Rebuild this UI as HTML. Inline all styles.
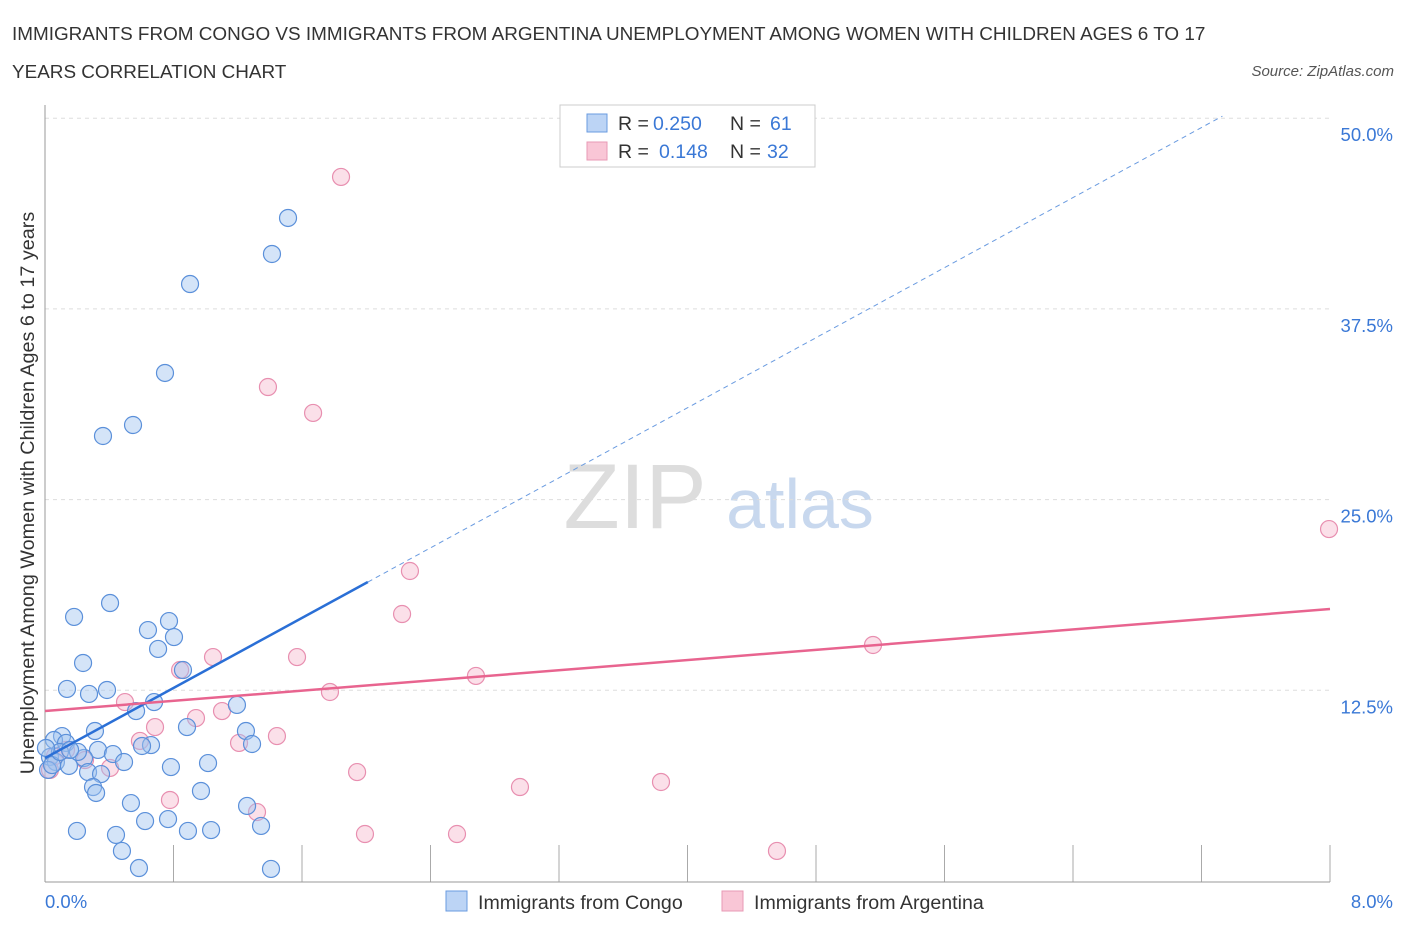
<!DOCTYPE html>
<html><head><meta charset="utf-8"><style>
body{margin:0;background:#fff;font-family:"Liberation Sans",sans-serif;}
svg text{font-family:"Liberation Sans",sans-serif;}
</style></head><body>
<svg width="1406" height="930">
<text x="12" y="40" font-size="18.9" fill="#333">IMMIGRANTS FROM CONGO VS IMMIGRANTS FROM ARGENTINA UNEMPLOYMENT AMONG WOMEN WITH CHILDREN AGES 6 TO 17</text>
<text x="12" y="78" font-size="18.9" fill="#333">YEARS CORRELATION CHART</text>
<text x="1394" y="76" font-size="15" fill="#555" font-style="italic" text-anchor="end">Source: ZipAtlas.com</text>
<text x="635" y="528" font-size="92" fill="#ddd" font-family="Liberation Serif" text-anchor="middle">ZIP</text>
<text x="800" y="528" font-size="70" fill="#c8d8ee" text-anchor="middle">atlas</text>
<g id="grid"></g>
<g id="ticks"></g>
<line x1="45" y1="105" x2="45" y2="882" stroke="#999"/>
<line x1="45" y1="882" x2="1330" y2="882" stroke="#999"/>
<text transform="translate(34,493) rotate(-90)" font-size="19.8" fill="#333" text-anchor="middle">Unemployment Among Women with Children Ages 6 to 17 years</text>
<text x="45" y="908" font-size="18.5" fill="#3a78d6">0.0%</text>
<text x="1393" y="908" font-size="18.5" fill="#3a78d6" text-anchor="end">8.0%</text>
<g id="pts"></g>
<g id="lines"></g>
<g>
<rect x="560" y="105" width="255" height="62" fill="#fff" stroke="#ccc"/>
<rect x="587" y="114" width="20" height="18" fill="#bcd4f5" stroke="#6a9be0"/>
<rect x="587" y="142" width="20" height="18" fill="#f9c6d6" stroke="#e89ab5"/>
<text x="618" y="130" font-size="19.5" fill="#333">R =</text>
<text x="653" y="130" font-size="19.5" fill="#3a78d6">0.250</text>
<text x="730" y="130" font-size="19.5" fill="#333">N =</text>
<text x="770" y="130" font-size="19.5" fill="#3a78d6">61</text>
<text x="618" y="158" font-size="19.5" fill="#333">R =</text>
<text x="659" y="158" font-size="19.5" fill="#3a78d6">0.148</text>
<text x="730" y="158" font-size="19.5" fill="#333">N =</text>
<text x="767" y="158" font-size="19.5" fill="#3a78d6">32</text>
</g>
<g>
<rect x="446" y="891" width="21" height="20" fill="#bcd4f5" stroke="#6a9be0"/>
<text x="478" y="909" font-size="19.6" fill="#333">Immigrants from Congo</text>
<rect x="722" y="891" width="21" height="20" fill="#f9c6d6" stroke="#e89ab5"/>
<text x="754" y="909" font-size="19.6" fill="#333">Immigrants from Argentina</text>
</g>
</svg>
<script>
const yTicks=[12.5,25,37.5,50];
const yTickLabels=["12.5%","25.0%","37.5%","50.0%"];
const xTicks=[0,0.8,1.6,2.4,3.2,4,4.8,5.6,6.4,7.2,8];
const congoX=[1.513,1.413,0.903,0.747,0.548,0.361,0.405,0.181,0.772,0.641,0.803,0.704,0.237,0.859,0.137,0.386,0.274,0.679,1.195,0.567,0.311,0.884,1.251,0.106,0.056,0.131,1.289,0.660,0.604,0.330,0.423,0.031,0.243,0.492,0.068,1.015,0.784,0.149,0.268,0.349,0.299,0.318,0.971,0.535,1.258,0.766,0.623,1.345,0.199,0.890,1.034,0.442,0.479,0.585,1.407,0.019,0.044,0.093,0.006,0.205,0.156];
const congoY=[43.46,41.10,39.13,33.30,29.89,29.17,18.22,17.31,17.04,16.45,15.99,15.21,14.29,13.83,12.59,12.52,12.26,11.73,11.54,11.14,9.83,10.09,9.83,9.50,9.24,9.05,8.98,8.91,8.85,8.59,8.32,8.13,8.06,7.80,7.80,7.73,7.47,7.54,7.14,7.01,6.16,5.77,5.90,5.11,4.92,4.06,3.93,3.61,3.28,3.28,3.34,3.02,1.97,0.85,0.79,7.28,7.60,8.46,8.72,8.46,8.59];
const argX=[1.843,1.388,1.669,7.994,2.272,2.223,5.155,1.046,1.569,0.841,2.683,1.774,0.498,0.940,1.102,0.685,1.208,1.444,0.591,0.131,0.062,0.249,0.405,0.031,1.943,2.957,3.835,0.778,1.320,1.992,2.565,4.557];
const argY=[46.15,32.38,30.68,23.07,20.32,17.50,15.47,14.68,14.68,13.83,13.44,12.39,11.73,10.68,11.14,10.09,9.05,9.50,9.18,8.59,8.19,7.93,7.41,7.28,7.14,6.16,6.49,5.31,4.52,3.08,3.08,1.97];
const congoTrend=[8.06,5.74]; // intercept, slope
const argTrend=[11.14,0.836];
const NS="http://www.w3.org/2000/svg";
const sx=v=>45+v/8*1285, sy=v=>881-v/12.5*190.7;
function mk(tag,attrs,parent){const e=document.createElementNS(NS,tag);for(const k in attrs)e.setAttribute(k,attrs[k]);document.getElementById(parent).appendChild(e);return e;}
yTicks.forEach((t,i)=>{
 const l=mk('line',{x1:45,x2:1330,y1:sy(t),y2:sy(t),stroke:'#ddd','stroke-dasharray':'4,4'},'grid');
 
 
 const tx=mk('text',{x:1393,y:sy(t)+23,'font-size':18.5,fill:'#3a78d6','text-anchor':'end'},'grid');
 tx.textContent=yTickLabels[i];
 
 
});
xTicks.forEach(t=>{
 const l=mk('line',{x1:sx(t),x2:sx(t),y1:845,y2:882,stroke:'#aaa'},'ticks');
 
 
});
argX.forEach((x,i)=>{
 const c=mk('circle',{cx:sx(x),cy:sy(argY[i]),r:8.5,fill:'rgba(246,178,200,0.4)',stroke:'#e88fb0','stroke-width':1.2},'pts');
 
 
});
congoX.forEach((x,i)=>{
 const c=mk('circle',{cx:sx(x),cy:sy(congoY[i]),r:8.5,fill:'rgba(160,196,240,0.45)',stroke:'#5b90da','stroke-width':1.2},'pts');
 
 
});
const bEnd=2.01, bDash=7.33;
let l1=mk('line',{x1:sx(0),y1:sy(congoTrend[0]),x2:sx(bEnd),y2:sy(congoTrend[0]+congoTrend[1]*bEnd),stroke:'#2a6fd6','stroke-width':2.5},'lines');


let l2=mk('line',{x1:sx(bEnd),y1:sy(congoTrend[0]+congoTrend[1]*bEnd),x2:sx(bDash),y2:sy(congoTrend[0]+congoTrend[1]*bDash),stroke:'#6a9be0','stroke-width':1,'stroke-dasharray':'5,4'},'lines');


let l3=mk('line',{x1:sx(0),y1:sy(argTrend[0]),x2:sx(8),y2:sy(argTrend[0]+argTrend[1]*8),stroke:'#e8648f','stroke-width':2.5},'lines');


</script>
</body></html>
